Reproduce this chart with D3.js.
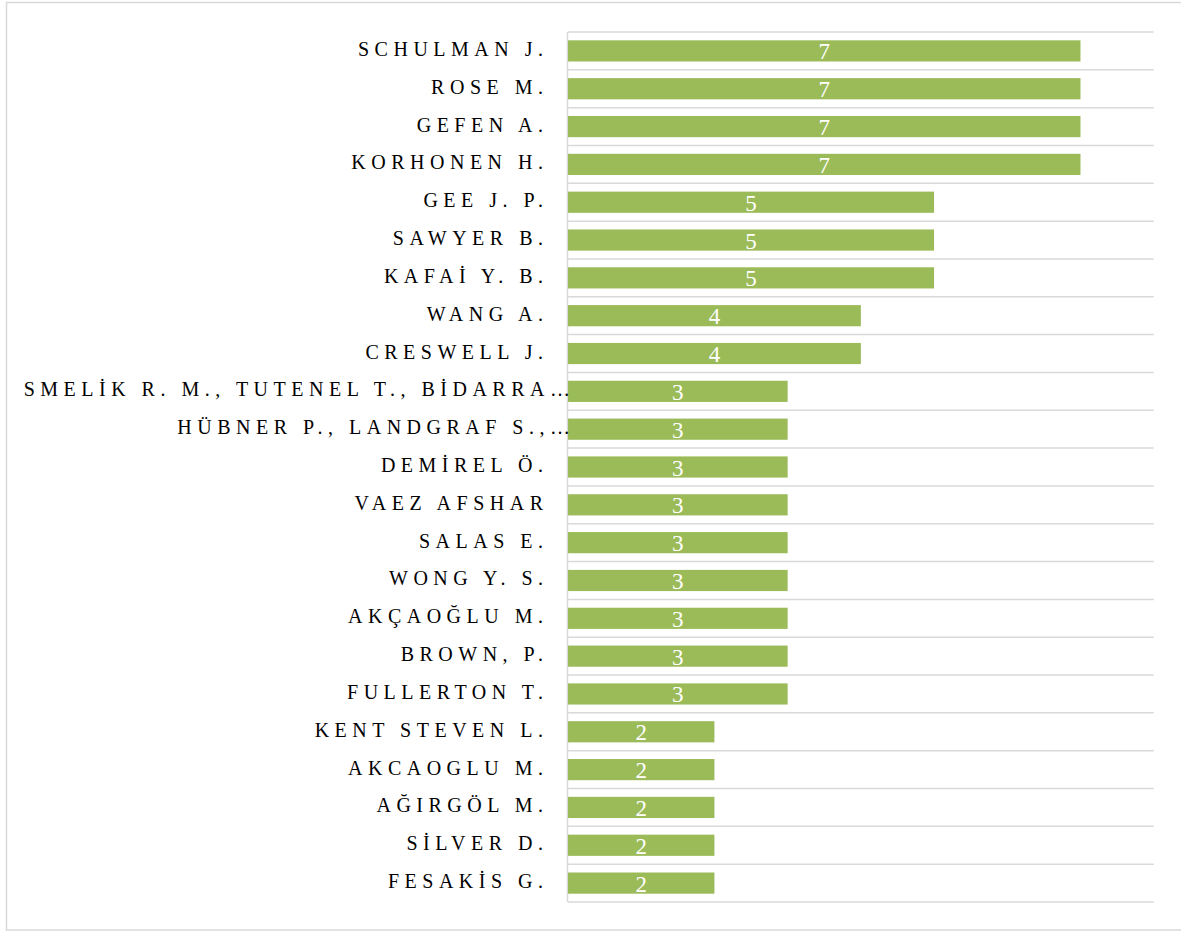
<!DOCTYPE html>
<html><head><meta charset="utf-8">
<script src="https://cdn.jsdelivr.net/npm/d3@7"></script>
<style>body{margin:0;background:#fff}svg{display:block}</style>
</head><body>
<script>
const authors = ["SCHULMAN J.","ROSE M.","GEFEN A.","KORHONEN H.","GEE J. P.","SAWYER B.","KAFAİ Y. B.","WANG A.","CRESWELL J.","SMELİK R. M., TUTENEL T., BİDARRA…","HÜBNER P., LANDGRAF S.,…","DEMİREL Ö.","VAEZ AFSHAR","SALAS E.","WONG Y. S.","AKÇAOĞLU M.","BROWN, P.","FULLERTON T.","KENT STEVEN L.","AKCAOGLU M.","AĞIRGÖL M.","SİLVER D.","FESAKİS G."];
const counts = [7,7,7,7,5,5,5,4,4,3,3,3,3,3,3,3,3,3,2,2,2,2,2];
const xMax = 8;

const W = 1181, H = 931;
const svg = d3.select("body").append("svg").attr("width", W).attr("height", H);
svg.append("rect").attr("x",6.5).attr("y",2.5).attr("width",1190).attr("height",927.5)
  .attr("fill","#fff").attr("stroke","#d9d9d9").attr("stroke-width",1.5);

const x = d3.scaleLinear().domain([0, xMax]).range([568, 1153.7]);
const y = d3.scaleBand().domain(authors).range([32, 902]).paddingInner(0.44).paddingOuter(0.22);
const step = y.step();

// category separator lines
const bounds = d3.range(authors.length + 1).map(i => 32 + i * step);
svg.append("g").selectAll("line").data(bounds).join("line")
  .attr("x1", 568).attr("x2", 1153.7).attr("y1", d => d).attr("y2", d => d)
  .attr("stroke", "#d9d9d9").attr("stroke-width", 1.5);
svg.append("line").attr("x1",567.5).attr("x2",567.5).attr("y1",32).attr("y2",902)
  .attr("stroke","#d9d9d9").attr("stroke-width",1.5);

svg.append("g").selectAll("rect").data(authors).join("rect")
  .attr("x", x(0)).attr("y", d => y(d))
  .attr("width", (d,i) => x(counts[i]) - x(0)).attr("height", y.bandwidth())
  .attr("fill", "#9bbb59");

svg.append("g").selectAll("text").data(authors).join("text")
  .attr("x", (d,i) => (x(0) + x(counts[i])) / 2)
  .attr("y", d => y(d) + y.bandwidth()/2 + 8.5)
  .attr("text-anchor","middle").attr("fill","#fff")
  .attr("font-family","'Liberation Serif', serif").attr("font-size",23)
  .text((d,i) => counts[i]);

const ls = 5.5;
svg.append("g").selectAll("text").data(authors).join("text")
  .attr("x", d => (d.endsWith("…") ? 570 : 543) + ls)
  .attr("y", d => y(d) + y.bandwidth()/2 + 5)
  .attr("text-anchor","end").attr("fill","#000")
  .attr("font-family","'Liberation Serif', serif").attr("font-size",20)
  .attr("letter-spacing", ls)
  .text(d => d);
</script>
</body></html>
